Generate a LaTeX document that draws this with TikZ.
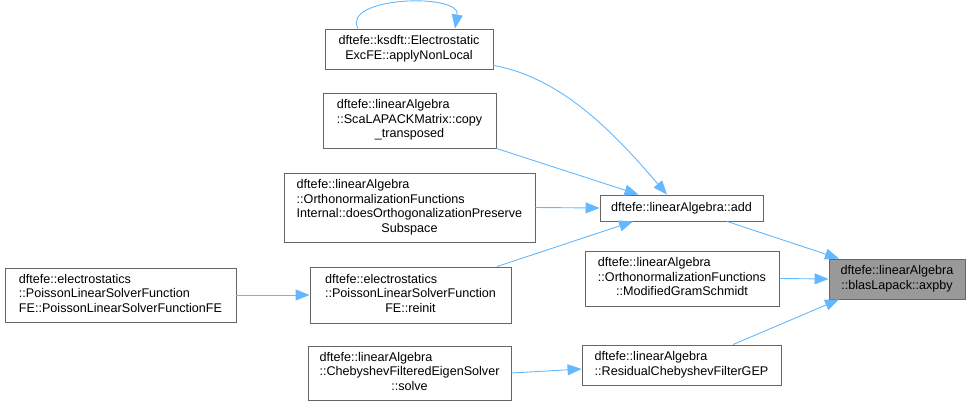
\documentclass[tikz,border=0pt]{standalone}
\usepackage{fontspec}
\setmainfont{Liberation Sans}
\usetikzlibrary{arrows.meta,calc}
\definecolor{edgeblue}{HTML}{63B8FF}
\definecolor{boxgrey}{HTML}{666666}
\definecolor{fillgrey}{HTML}{999999}
\newcommand{\lcline}[1]{\multicolumn{1}{@{}c@{}}{#1}}
\begin{document}
\begin{tikzpicture}[x=1pt,y=-1pt,
  box/.style={draw=boxgrey, line width=0.9pt, fill=white, inner sep=0pt,
    font=\fontsize{12.6}{14.5}\selectfont},
  hbox/.style={box, fill=fillgrey},
  link/.style={draw=edgeblue, line width=0.9pt, -{Triangle[length=14pt,width=11pt]}}]
\useasboundingbox (0,0) rectangle (971,406);

\node[box, minimum width=168pt, minimum height=40pt] (anl) at (409,49)
  {\begin{tabular}{@{}l@{}}dftefe::ksdft::Electrostatic\\\lcline{ExcFE::applyNonLocal}\end{tabular}};
\node[box, minimum width=173pt, minimum height=55pt] (copy) at (409.5,120.5)
  {\begin{tabular}{@{}l@{}}dftefe::linearAlgebra\\::ScaLAPACKMatrix::copy\\\lcline{\_transposed}\end{tabular}};
\node[box, minimum width=251pt, minimum height=69pt] (orth) at (409.5,207.5)
  {\begin{tabular}{@{}l@{}}dftefe::linearAlgebra\\::OrthonormalizationFunctions\\Internal::doesOrthogonalizationPreserve\\\lcline{Subspace}\end{tabular}};
\node[box, minimum width=163pt, minimum height=26pt] (add) at (681.5,208)
  {dftefe::linearAlgebra::add};
\node[box, minimum width=194pt, minimum height=55pt] (mgs) at (682,278.5)
  {\begin{tabular}{@{}l@{}}dftefe::linearAlgebra\\::OrthonormalizationFunctions\\\lcline{::ModifiedGramSchmidt}\end{tabular}};
\node[hbox, minimum width=136pt, minimum height=40pt] (axpby) at (897,279)
  {\begin{tabular}{@{}l@{}}dftefe::linearAlgebra\\\lcline{::blasLapack::axpby}\end{tabular}};
\node[box, minimum width=231pt, minimum height=54pt] (pfe) at (120.5,295)
  {\begin{tabular}{@{}l@{}}dftefe::electrostatics\\::PoissonLinearSolverFunction\\\lcline{FE::PoissonLinearSolverFunctionFE}\end{tabular}};
\node[box, minimum width=201pt, minimum height=56pt] (reinit) at (410.5,295)
  {\begin{tabular}{@{}l@{}}dftefe::electrostatics\\::PoissonLinearSolverFunction\\\lcline{FE::reinit}\end{tabular}};
\node[box, minimum width=203pt, minimum height=54pt] (solve) at (409.5,373)
  {\begin{tabular}{@{}l@{}}dftefe::linearAlgebra\\::ChebyshevFilteredEigenSolver\\\lcline{::solve}\end{tabular}};
\node[box, minimum width=199pt, minimum height=40pt] (res) at (681.5,365)
  {\begin{tabular}{@{}l@{}}dftefe::linearAlgebra\\\lcline{::ResidualChebyshevFilterGEP}\end{tabular}};

% self loop
\draw[link] ($(anl.north)+(-51,0)$) .. controls ($(anl.north)+(-68,-32)$) and ($(anl.north)+(52,-36)$) .. ($(anl.north)+(46,0)$);
% to add
\draw[link] ($(anl.south east)+(0,-4)$) .. controls (565,78) and (620,140) .. ($(add.north)+(-14.5,0)$);
\draw[link] (copy.south east) -- ($(add.north)+(-43,0)$);
\draw[link] (orth.east) -- (add.west);
\draw[link] ($(reinit.north)+(86.5,0)$) -- ($(add.south)+(-48.5,0)$);
\draw[link] (pfe.east) -- (reinit.west);
% to axpby
\draw[link] ($(add.south)+(45.5,0)$) -- ($(axpby.north)+(-58,0)$);
\draw[link] (mgs.east) -- (axpby.west);
\draw[link] ($(res.north)+(51.5,0)$) -- ($(axpby.south)+(-58,0)$);
\draw[link] (solve.east) -- ($(res.west)+(0,4)$);
\end{tikzpicture}
\end{document}
